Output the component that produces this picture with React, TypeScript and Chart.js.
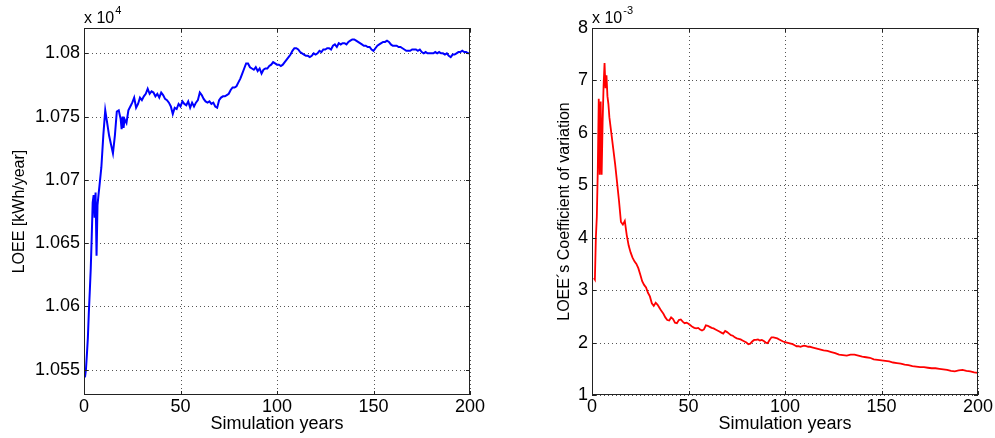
import React, { useEffect, useRef } from "react";
import { Chart, registerables } from "chart.js";

Chart.register(...registerables);

const FONT = '"Liberation Sans", Arial, Helvetica, sans-serif';

// ---- shared x axis ----
const xTickValues = [0, 50, 100, 150, 200];

// ---- left chart: LOEE (x 10^4 kWh/year) ----
const loeeTickValues = [1.055, 1.06, 1.065, 1.07, 1.075, 1.08];
const loeeYears = [
  0.5, 1, 1.5, 2, 2.5, 3, 3.5, 4, 4.5, 5, 5.5, 6, 6.5, 7, 7.5, 8, 9, 10, 11, 12,
  13, 14, 15, 16, 17, 18, 19, 19.5, 20, 20.5, 21, 22, 23, 24, 25, 26, 27, 28, 29, 30,
  31, 32, 33, 34, 35, 36, 37, 38, 39, 40, 41, 42, 43, 44, 45, 46, 47, 48, 49, 50,
  51, 52, 53, 54, 55, 56, 57, 58, 59, 60, 61, 62, 63, 64, 65, 66, 67, 68, 69, 70,
  71, 72, 73, 74, 75, 76, 77, 78, 79, 80, 81, 82, 83, 84, 85, 86, 87, 88, 89, 90,
  91, 92, 93, 94, 95, 96, 97, 98, 99, 100, 101, 102, 103, 104, 105, 106, 107, 108, 109, 110,
  111, 112, 113, 114, 115, 116, 117, 118, 119, 120, 121, 122, 123, 124, 125, 126, 127, 128, 129, 130,
  131, 132, 133, 134, 135, 136, 137, 138, 139, 140, 141, 142, 143, 144, 145, 146, 147, 148, 149, 150,
  151, 152, 153, 154, 155, 156, 157, 158, 159, 160, 161, 162, 163, 164, 165, 166, 167, 168, 169, 170,
  171, 172, 173, 174, 175, 176, 177, 178, 179, 180, 181, 182, 183, 184, 185, 186, 187, 188, 189, 190,
  191, 192, 193, 194, 195, 196, 197, 198, 199, 200,
];
const loeeValues = [
  1.0544, 1.055, 1.0562, 1.0575, 1.0595, 1.0612, 1.063, 1.0655, 1.0682, 1.0688, 1.067, 1.069, 1.064, 1.068, 1.0688, 1.0695, 1.071, 1.0735, 1.0755, 1.0745,
  1.0735, 1.0728, 1.0721, 1.0735, 1.0754, 1.0755, 1.0748, 1.074, 1.075, 1.0741, 1.0748, 1.0745, 1.0755, 1.0758, 1.0761, 1.0765, 1.0757, 1.076, 1.0765, 1.0763,
  1.0766, 1.0768, 1.0772, 1.0768, 1.077, 1.0769, 1.0766, 1.0768, 1.0765, 1.0769, 1.0767, 1.0764, 1.0763, 1.0761, 1.0758, 1.0752, 1.0757, 1.0756, 1.076, 1.0758,
  1.0762, 1.076, 1.0759, 1.0762, 1.0757, 1.0761, 1.0758, 1.0761, 1.0763, 1.0769, 1.0767, 1.0764, 1.0762, 1.0761, 1.0762, 1.076, 1.0761, 1.0758, 1.0757, 1.0763,
  1.0765, 1.0766, 1.0766, 1.0767, 1.0768, 1.0771, 1.0773, 1.0773, 1.0774, 1.0777, 1.078, 1.0784, 1.0788, 1.0792, 1.0792, 1.0789, 1.0788, 1.0787, 1.0789, 1.0786,
  1.0788, 1.0784, 1.0787, 1.0788, 1.0788, 1.079, 1.0791, 1.0793, 1.0792, 1.0791, 1.0791, 1.079, 1.0791, 1.0793, 1.0795, 1.0797, 1.0799, 1.0802, 1.0804, 1.0804,
  1.0803, 1.0801, 1.08, 1.0799, 1.0798, 1.0798, 1.0797, 1.0798, 1.08, 1.0799, 1.08, 1.0802, 1.0801, 1.0803, 1.0803, 1.0804, 1.0804, 1.0803, 1.0806, 1.0807,
  1.0805, 1.0808, 1.0807, 1.0808, 1.0808, 1.0807, 1.0809, 1.081, 1.0811, 1.0811, 1.081, 1.0809, 1.0808, 1.0807, 1.0806, 1.0806, 1.0805, 1.0805, 1.0803, 1.0802,
  1.0804, 1.0806, 1.0807, 1.0808, 1.0809, 1.0809, 1.081, 1.0809, 1.0807, 1.0806, 1.0806, 1.0806, 1.0805, 1.0805, 1.0804, 1.0803, 1.0802, 1.0802, 1.0802, 1.0803,
  1.0803, 1.0803, 1.0802, 1.0803, 1.0801, 1.08, 1.0801, 1.08, 1.08, 1.08, 1.08, 1.0801, 1.08, 1.0801, 1.08, 1.08, 1.0799, 1.08, 1.0798, 1.0797,
  1.0799, 1.0799, 1.08, 1.0801, 1.0801, 1.0802, 1.0801, 1.0801, 1.08, 1.08,
];

// ---- right chart: coefficient of variation (x 10^-3) ----
const covTickValues = [1, 2, 3, 4, 5, 6, 7, 8];
const covYears = [
  1, 1.5, 2, 2.5, 3, 3.5, 4, 4.5, 5, 5.5, 6, 6.5, 7, 7.5, 8, 8.5, 9, 10, 11, 12,
  13, 14, 15, 16, 17, 18, 19, 20, 21, 22, 23, 24, 25, 26, 27, 28, 29, 30, 31, 32,
  33, 34, 35, 36, 37, 38, 39, 40, 41, 42, 43, 44, 45, 46, 47, 48, 49, 50, 51, 52,
  53, 54, 55, 56, 57, 58, 59, 60, 61, 62, 63, 64, 65, 66, 67, 68, 69, 70, 71, 72,
  73, 74, 75, 76, 77, 78, 79, 80, 81, 82, 83, 84, 85, 86, 87, 88, 89, 90, 91, 92,
  93, 94, 95, 96, 97, 98, 99, 100, 101, 102, 103, 104, 105, 106, 107, 108, 109, 110, 111, 112,
  113, 114, 115, 116, 117, 118, 119, 120, 122, 124, 126, 128, 130, 132, 134, 136, 138, 140, 142, 144,
  146, 148, 150, 152, 154, 156, 158, 160, 162, 164, 166, 168, 170, 172, 174, 176, 178, 180, 182, 184,
  186, 188, 190, 192, 194, 196, 198, 200,
];
const covValues = [
  3.23, 3.2, 4.0, 4.4, 5.3, 6.65, 5.2, 6.6, 5.2, 6.2, 6.9, 7.33, 6.85, 7.1, 6.7, 6.55, 6.3, 6.0, 5.7, 5.4,
  5.05, 4.7, 4.3, 4.25, 4.32, 4.05, 3.85, 3.72, 3.62, 3.55, 3.5, 3.42, 3.3, 3.17, 3.1, 3.05, 2.95, 2.88, 2.75, 2.7,
  2.76, 2.72, 2.66, 2.6, 2.55, 2.48, 2.43, 2.42, 2.48, 2.45, 2.38, 2.37, 2.43, 2.44, 2.4, 2.37, 2.38, 2.36, 2.33, 2.3,
  2.28, 2.27, 2.28, 2.25, 2.23, 2.25, 2.33, 2.32, 2.3, 2.28, 2.27, 2.25, 2.23, 2.21, 2.19, 2.17, 2.22, 2.2, 2.17, 2.14,
  2.13, 2.1, 2.08, 2.07, 2.06, 2.04, 2.02, 2.0, 1.97, 1.98, 2.02, 2.05, 2.05, 2.06, 2.04, 2.05, 2.03, 2.0, 1.99, 2.05,
  2.1, 2.1, 2.09, 2.08, 2.06, 2.04, 2.02, 2.01, 2.0, 1.99, 1.98, 1.97, 1.95, 1.93, 1.93, 1.92, 1.93, 1.94, 1.93, 1.92,
  1.92, 1.91, 1.9, 1.89, 1.88, 1.87, 1.86, 1.85, 1.84, 1.82, 1.8, 1.77, 1.76, 1.75, 1.77, 1.77, 1.75, 1.73, 1.72, 1.71,
  1.68, 1.67, 1.66, 1.65, 1.64, 1.62, 1.61, 1.6, 1.58, 1.57, 1.55, 1.54, 1.53, 1.53, 1.52, 1.51, 1.51, 1.5, 1.49, 1.48,
  1.46, 1.45, 1.47, 1.48, 1.46, 1.45, 1.43, 1.42,
];

type Panel = {
  years: number[];
  values: number[];
  yTicks: number[];
  yMin: number;
  yMax: number;
  color: string;
  lineWidth: number;
  yTitle: string;
  exponent: string;
  yAxisWidth: number;
  rightPad: number;
  yTitlePad: number;
  width: number;
};

const framePlugin = {
  id: "matlabFrame",
  beforeDatasetsDraw(chart: any) {
    const { ctx, chartArea } = chart;
    const { left, right, top, bottom } = chartArea;
    const xs = chart.scales.x;
    const ys = chart.scales.y;
    ctx.save();
    ctx.strokeStyle = "#555";
    ctx.lineWidth = 1;
    ctx.setLineDash([1, 3]);
    xs.ticks.forEach((t: any) => {
      const px = Math.round(xs.getPixelForValue(t.value)) + 0.5;
      ctx.beginPath();
      ctx.moveTo(px, top);
      ctx.lineTo(px, bottom);
      ctx.stroke();
    });
    ys.ticks.forEach((t: any) => {
      const py = Math.round(ys.getPixelForValue(t.value)) + 0.5;
      ctx.beginPath();
      ctx.moveTo(left, py);
      ctx.lineTo(right, py);
      ctx.stroke();
    });
    ctx.restore();
  },
  afterDraw(chart: any, _args: any, opts: any) {
    const { ctx, chartArea } = chart;
    const { left, right, top, bottom } = chartArea;
    const xs = chart.scales.x;
    const ys = chart.scales.y;
    ctx.save();
    ctx.strokeStyle = "#222";
    ctx.lineWidth = 1;
    ctx.setLineDash([]);
    ctx.strokeRect(left + 0.5, top + 0.5, right - left - 1, bottom - top - 1);
    const tl = 4;
    ctx.beginPath();
    xs.ticks.forEach((t: any) => {
      const px = Math.round(xs.getPixelForValue(t.value)) + 0.5;
      ctx.moveTo(px, bottom);
      ctx.lineTo(px, bottom - tl);
      ctx.moveTo(px, top);
      ctx.lineTo(px, top + tl);
    });
    ys.ticks.forEach((t: any) => {
      const py = Math.round(ys.getPixelForValue(t.value)) + 0.5;
      ctx.moveTo(left, py);
      ctx.lineTo(left + tl, py);
      ctx.moveTo(right, py);
      ctx.lineTo(right - tl, py);
    });
    ctx.stroke();
    // exponent label
    ctx.fillStyle = "#000";
    ctx.textBaseline = "alphabetic";
    ctx.textAlign = "left";
    ctx.font = `16px ${FONT}`;
    const base = "x 10";
    ctx.fillText(base, left, top - 5);
    const w = ctx.measureText(base).width;
    ctx.font = `11px ${FONT}`;
    ctx.fillText(opts.exponent, left + w + 1, top - 14);
    ctx.restore();
  },
};

function ChartPanel({ p }: { p: Panel }) {
  const ref = useRef<HTMLCanvasElement | null>(null);
  useEffect(() => {
    if (!ref.current) return;
    const data = p.years.map((x, i) => ({ x, y: p.values[i] }));
    const chart = new Chart(ref.current, {
      type: "line",
      data: {
        datasets: [
          {
            data,
            borderColor: p.color,
            borderWidth: p.lineWidth,
            pointRadius: 0,
            tension: 0,
            fill: false,
          },
        ],
      },
      plugins: [framePlugin as any],
      options: {
        responsive: false,
        maintainAspectRatio: false,
        animation: false,
        devicePixelRatio: 1,
        layout: { padding: { left: 0, top: 28, right: p.rightPad, bottom: 0 } },
        plugins: {
          legend: { display: false },
          tooltip: { enabled: false },
          matlabFrame: { exponent: p.exponent },
        } as any,
        scales: {
          x: {
            type: "linear",
            min: 0,
            max: 200,
            afterBuildTicks: (s: any) => {
              s.ticks = xTickValues.map((v) => ({ value: v }));
            },
            afterFit: (s: any) => {
              s.height = 43;
            },
            grid: { display: false, drawTicks: false },
            border: { display: false },
            ticks: {
              color: "#000",
              font: { family: FONT, size: 18 },
              padding: 1,
              maxRotation: 0,
              callback: (v: any) => String(v),
            },
            title: {
              display: true,
              text: "Simulation years",
              color: "#000",
              font: { family: FONT, size: 18 },
              padding: { top: 0, bottom: 3 },
            },
          },
          y: {
            type: "linear",
            min: p.yMin,
            max: p.yMax,
            afterBuildTicks: (s: any) => {
              s.ticks = p.yTicks.map((v) => ({ value: v }));
            },
            afterFit: (s: any) => {
              s.width = p.yAxisWidth;
            },
            grid: { display: false, drawTicks: false },
            border: { display: false },
            ticks: {
              color: "#000",
              font: { family: FONT, size: 18 },
              padding: 4,
              callback: (v: any) => String(Number(Number(v).toFixed(4))),
            },
            title: {
              display: true,
              text: p.yTitle,
              color: "#000",
              font: { family: FONT, size: 16 },
              padding: { top: p.yTitlePad, bottom: 0 },
            },
          },
        },
      },
    });
    return () => chart.destroy();
  }, [p]);
  return (
    <canvas
      ref={ref}
      width={p.width}
      height={438}
      style={{ display: "block", width: p.width, height: 438 }}
    />
  );
}

const leftPanel: Panel = {
  years: loeeYears,
  values: loeeValues,
  yTicks: loeeTickValues,
  yMin: 1.053,
  yMax: 1.082,
  color: "#0000ff",
  lineWidth: 2,
  yTitle: "LOEE [kWh/year]",
  exponent: "4",
  yAxisWidth: 84,
  rightPad: 30,
  yTitlePad: 10,
  width: 500,
};

const rightPanel: Panel = {
  years: covYears,
  values: covValues,
  yTicks: covTickValues,
  yMin: 1,
  yMax: 8,
  color: "#ff0000",
  lineWidth: 1.8,
  yTitle: "LOEE´s Coefficient of variation",
  exponent: "-3",
  yAxisWidth: 92,
  rightPad: 17,
  yTitlePad: 55,
  width: 495,
};

export default function App() {
  return (
    <div
      style={{
        position: "fixed",
        left: 0,
        top: 0,
        width: 995,
        height: 438,
        background: "#fff",
        display: "flex",
      }}
    >
      <ChartPanel p={leftPanel} />
      <ChartPanel p={rightPanel} />
    </div>
  );
}
